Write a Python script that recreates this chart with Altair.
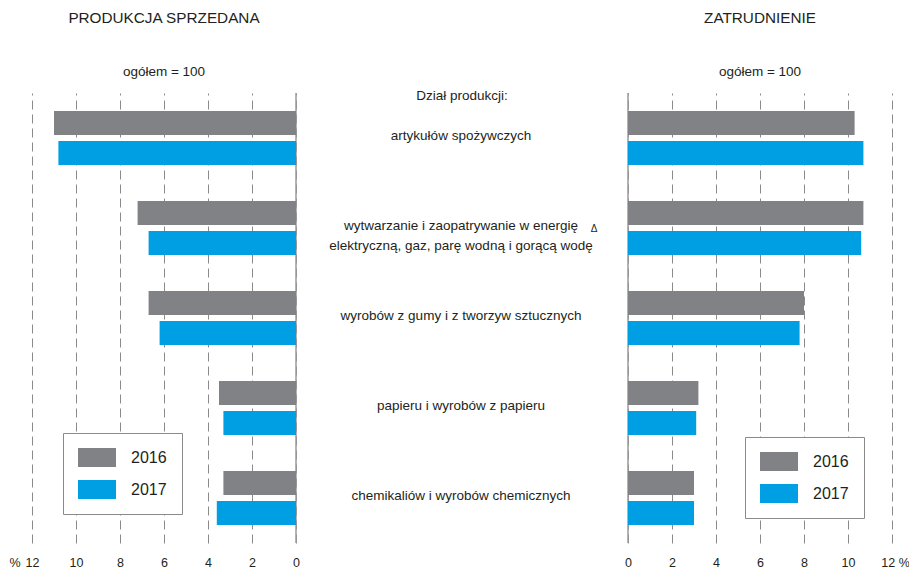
import altair as alt
import pandas as pd

categories = [
    "artykułów spożywczych",
    "wytwarzanie i zaopatrywanie w energię\nelektryczną, gaz, parę wodną i gorącą wodę",
    "wyrobów z gumy i z tworzyw sztucznych",
    "papieru i wyrobów z papieru",
    "chemikaliów i wyrobów chemicznych",
]
years = ["2016", "2017"]
sales_2016 = [11.0, 7.2, 6.7, 3.5, 3.3]
sales_2017 = [10.8, 6.7, 6.2, 3.3, 3.6]
employment_2016 = [10.3, 10.7, 8.0, 3.2, 3.0]
employment_2017 = [10.7, 10.6, 7.8, 3.1, 3.0]
tick_values = [0, 2, 4, 6, 8, 10, 12]
colors = ["#818286", "#009FE3"]

rows = []
for i, c in enumerate(categories):
    rows.append(dict(cat=c, year="2016", sales=sales_2016[i], emp=employment_2016[i]))
    rows.append(dict(cat=c, year="2017", sales=sales_2017[i], emp=employment_2017[i]))
df = pd.DataFrame(rows)
one = pd.DataFrame({"a": [0]})

W, H = 860, 450
FONT = "Liberation Sans, Arial"
TXT = "#231f20"

y_enc = alt.Y("cat:N", sort=categories, axis=None,
              scale=alt.Scale(paddingInner=0, paddingOuter=0))
yoff = alt.YOffset("year:N", sort=years,
                   scale=alt.Scale(paddingInner=0.2, paddingOuter=0.6))
color_scale = alt.Scale(domain=years, range=colors)
PATH = "M-1,-1H3V1H-1Z"


def legend(x, y):
    return alt.Legend(title=None, orient="none", legendX=x, legendY=y,
                      symbolType=PATH, symbolSize=361, symbolStrokeWidth=0,
                      symbolOpacity=1, labelFont=FONT, labelFontSize=16,
                      labelColor=TXT, labelOffset=34, rowPadding=13,
                      padding=15, strokeColor="#8a8a8a", fillColor="white")


def xaxis(right_side):
    extra = {}
    if right_side:
        extra = dict(
            labelExpr="datum.value == 12 ? '12 %' : datum.label",
            labelOffset={"condition": {"test": "datum.value == 12", "value": 3},
                         "value": 0},
        )
    return alt.Axis(values=tick_values, format="d", grid=True, gridDash=[9, 5],
                    gridColor="#8a8a8a", gridWidth=1, domain=False, ticks=False,
                    labelPadding=13, labelFont=FONT, labelFontSize=12.5,
                    labelColor=TXT, labelFlush=False, labelOverlap=False,
                    title=None, orient="bottom", **extra)


def panel(field, xscale, title, lx, ly, right_side):
    bars = alt.Chart(df).mark_bar().encode(
        x=alt.X(f"{field}:Q", scale=xscale, axis=xaxis(right_side)),
        y=y_enc, yOffset=yoff,
        color=alt.Color("year:N", scale=color_scale, legend=legend(lx, ly)),
    )
    zero = alt.Chart(one).mark_rule(color="#9a9a9a", strokeWidth=1.5).encode(
        x=alt.datum(0), y=alt.value(0), y2=alt.value(H))
    ttl = alt.Chart(one).mark_text(text=title, font=FONT, fontSize=15.3,
                                   color=TXT, baseline="middle").encode(
        x=alt.datum(6), y=alt.value(-75))
    sub = alt.Chart(one).mark_text(text="ogółem = 100", font=FONT, fontSize=13.5,
                                   color=TXT, baseline="middle").encode(
        x=alt.datum(6), y=alt.value(-21))
    layers = [zero, bars, ttl, sub]
    if not right_side:
        pct = alt.Chart(one).mark_text(text="%", font=FONT, fontSize=12.5, color=TXT,
                                       baseline="middle", dx=-17).encode(
            x=alt.datum(12), y=alt.value(H + 20))
        layers.append(pct)
    return alt.layer(*layers)


left = panel("sales", alt.Scale(domain=[0, 12], range=[264, 0], nice=False),
             "PRODUKCJA SPRZEDANA", 31, 340, False)
right = panel("emp", alt.Scale(domain=[0, 12], range=[596, 860], nice=False),
              "ZATRUDNIENIE", 713, 344, True)

mid_labels = alt.Chart(pd.DataFrame({"cat": categories})).mark_text(
    font=FONT, fontSize=13.5, lineBreak="\n", baseline="middle", dy=-2,
    lineHeight=20, color=TXT).encode(
    y=alt.Y("cat:N", sort=categories, axis=None), x=alt.value(429), text="cat:N")
delta = alt.Chart(pd.DataFrame({"cat": [categories[1]]})).mark_text(
    text="Δ", font=FONT, fontSize=10, baseline="middle", dx=133, dy=1,
    color=TXT).encode(y=alt.Y("cat:N", sort=categories, axis=None), x=alt.value(429))
head = alt.Chart(one).mark_text(text="Dział produkcji:", font=FONT, fontSize=13.5,
                                baseline="middle", color=TXT).encode(
    x=alt.value(430), y=alt.value(3))
mid = alt.layer(mid_labels, delta, head)

chart = alt.layer(left, right, mid).resolve_scale(
    x="independent", color="independent").resolve_legend(color="independent").properties(
    width=W, height=H, autosize=alt.AutoSizeParams(type="none"),
    padding={"left": 24, "top": 85, "right": 17, "bottom": 30},
    background="white").configure_view(stroke=None)

chart.save("out.html", embed_options={"renderer": "svg", "actions": False})
